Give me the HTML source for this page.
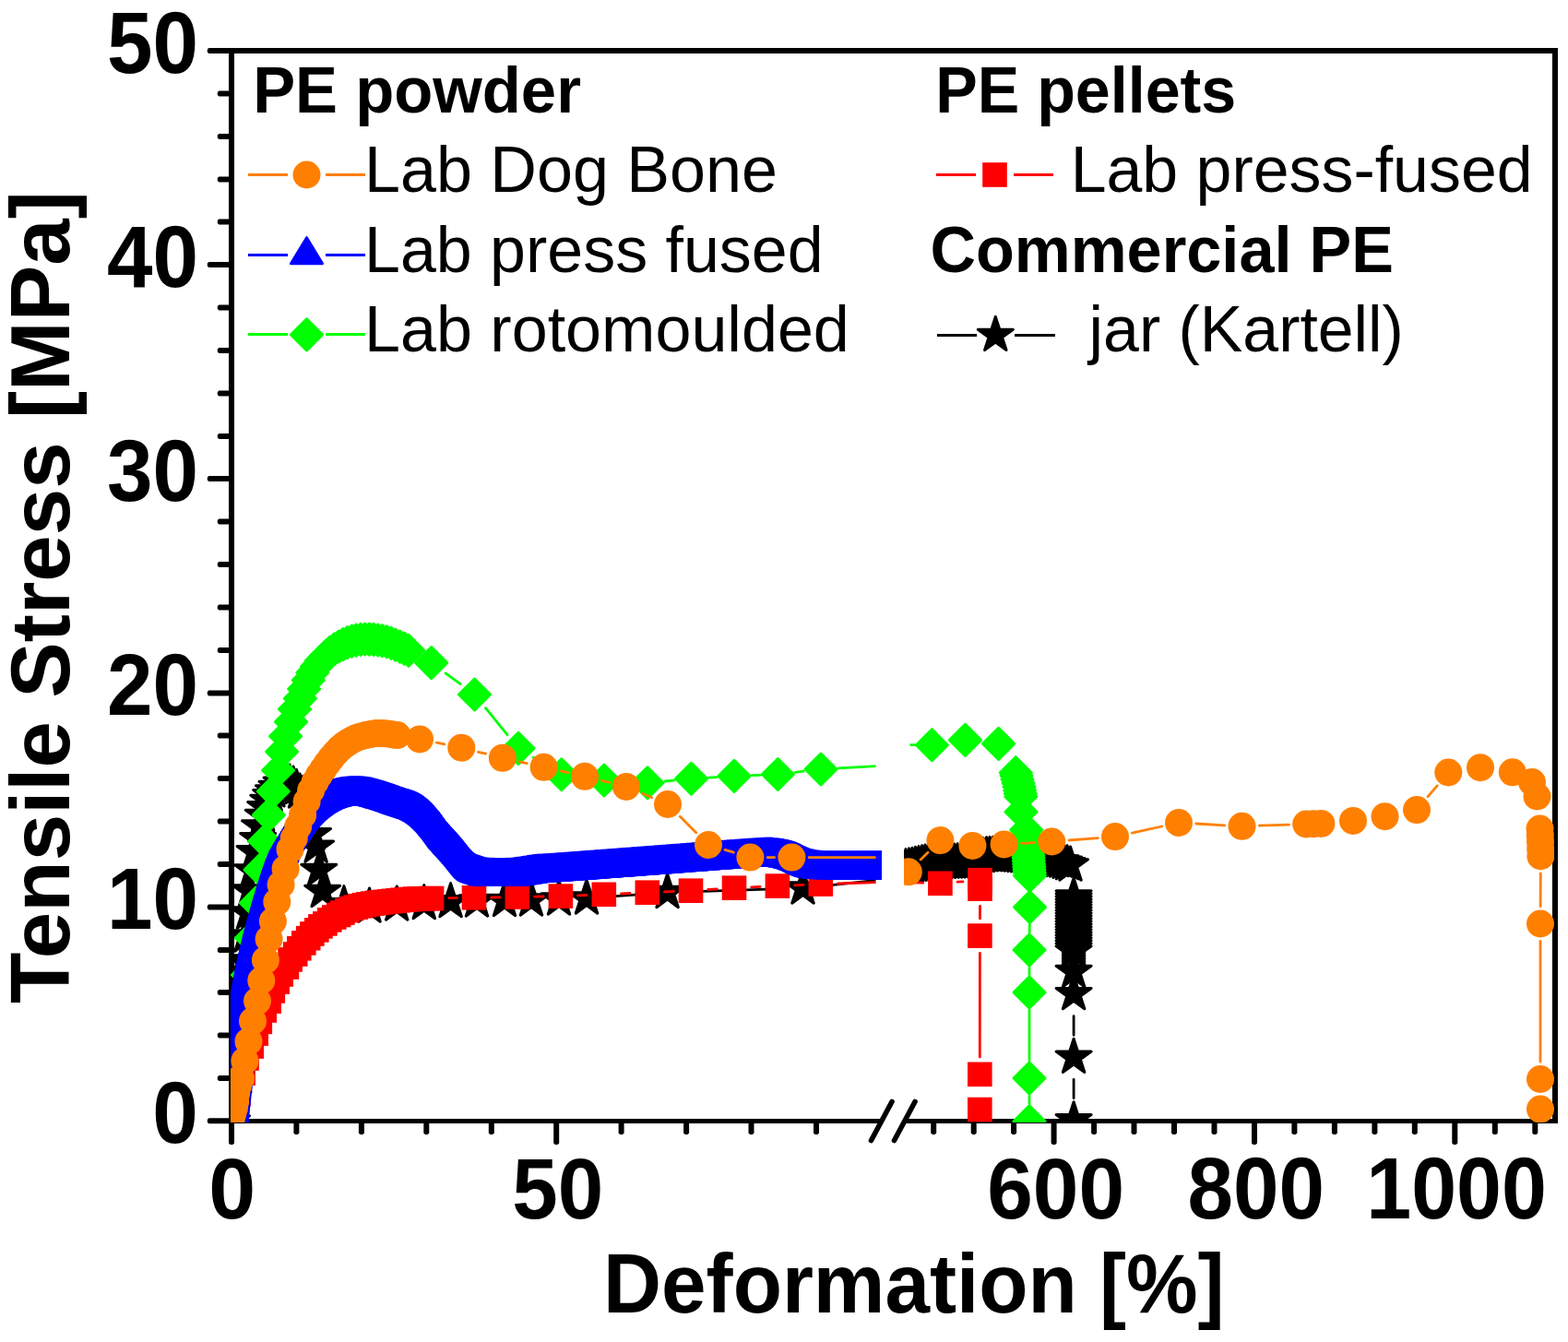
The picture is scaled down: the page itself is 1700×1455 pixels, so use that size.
<!DOCTYPE html>
<html lang="en"><head><meta charset="utf-8"><title>Tensile Stress vs Deformation</title>
<style>html,body{margin:0;padding:0;background:#fff}body{width:1700px;height:1455px;overflow:hidden}svg{display:block}text{font-family:"Liberation Sans",Arial,Helvetica,sans-serif;fill:#000}.b{font-weight:bold}</style></head><body>
<svg width="1700" height="1455" viewBox="0 0 1700 1455">
<rect width="1700" height="1455" fill="#fff"/>
<defs>
<circle id="mo" r="15" fill="#ff8000"/>
<path id="mb" d="M0,-18.8L17,9.2L-17,9.2Z" fill="#0000ff" stroke="#0000ff" stroke-width="3" stroke-linejoin="round"/>
<path id="mg" d="M0,-17L17,0L0,17L-17,0Z" fill="#00ff00" stroke="#00ff00" stroke-width="3" stroke-linejoin="round"/>
<rect id="mr" x="-13.3" y="-13.3" width="26.6" height="26.6" fill="#ff0000"/>
<path id="mk" d="M0.00,-20.00L4.49,-6.18L19.02,-6.18L7.27,2.36L11.76,16.18L0.00,7.64L-11.76,16.18L-7.27,2.36L-19.02,-6.18L-4.49,-6.18Z" fill="#000" stroke="#000" stroke-width="3" stroke-linejoin="round"/>
<clipPath id="cl"><rect x="250" y="58" width="706" height="1159"/></clipPath>
<clipPath id="cr"><rect x="980" y="58" width="705" height="1159"/></clipPath>
<clipPath id="ll"><rect x="250" y="58" width="699.5" height="1159"/></clipPath>
<clipPath id="lr"><rect x="986.5" y="58" width="698.5" height="1159"/></clipPath>
</defs>
<g fill="#000" shape-rendering="crispEdges">
<rect x="248" y="52" width="6" height="1166"/>
<rect x="1683" y="52" width="6" height="1166"/>
<rect x="248" y="52" width="1441" height="6"/>
<rect x="248" y="1213" width="708" height="5"/>
<rect x="980" y="1213" width="709" height="5"/>
</g>
<g fill="#000">
<path d="M250,1212.3 H226.4 L224.8,1213.9 V1216.7 L226.4,1218.3 H250Z"/>
<path d="M250,1166 H237.4 L235.8,1167.6 V1170.4 L237.4,1172 H250Z"/>
<path d="M250,1119.5 H237.4 L235.8,1121.1 V1123.9 L237.4,1125.5 H250Z"/>
<path d="M250,1073 H237.4 L235.8,1074.6 V1077.4 L237.4,1079 H250Z"/>
<path d="M250,1027 H237.4 L235.8,1028.6 V1031.4 L237.4,1033 H250Z"/>
<path d="M250,980.5 H226.4 L224.8,982.1 V984.9 L226.4,986.5 H250Z"/>
<path d="M250,934 H237.4 L235.8,935.6 V938.4 L237.4,940 H250Z"/>
<path d="M250,887.5 H237.4 L235.8,889.1 V891.9 L237.4,893.5 H250Z"/>
<path d="M250,841 H237.4 L235.8,842.6 V845.4 L237.4,847 H250Z"/>
<path d="M250,794.5 H237.4 L235.8,796.1 V798.9 L237.4,800.5 H250Z"/>
<path d="M250,748.5 H226.4 L224.8,750.1 V752.9 L226.4,754.5 H250Z"/>
<path d="M250,702 H237.4 L235.8,703.6 V706.4 L237.4,708 H250Z"/>
<path d="M250,655.5 H237.4 L235.8,657.1 V659.9 L237.4,661.5 H250Z"/>
<path d="M250,609 H237.4 L235.8,610.6 V613.4 L237.4,615 H250Z"/>
<path d="M250,562.5 H237.4 L235.8,564.1 V566.9 L237.4,568.5 H250Z"/>
<path d="M250,516 H226.4 L224.8,517.6 V520.4 L226.4,522 H250Z"/>
<path d="M250,470 H237.4 L235.8,471.6 V474.4 L237.4,476 H250Z"/>
<path d="M250,423.5 H237.4 L235.8,425.1 V427.9 L237.4,429.5 H250Z"/>
<path d="M250,377 H237.4 L235.8,378.6 V381.4 L237.4,383 H250Z"/>
<path d="M250,330.5 H237.4 L235.8,332.1 V334.9 L237.4,336.5 H250Z"/>
<path d="M250,284 H226.4 L224.8,285.6 V288.4 L226.4,290 H250Z"/>
<path d="M250,237.5 H237.4 L235.8,239.1 V241.9 L237.4,243.5 H250Z"/>
<path d="M250,191.5 H237.4 L235.8,193.1 V195.9 L237.4,197.5 H250Z"/>
<path d="M250,145 H237.4 L235.8,146.6 V149.4 L237.4,151 H250Z"/>
<path d="M250,98.5 H237.4 L235.8,100.1 V102.9 L237.4,104.5 H250Z"/>
<path d="M250,52 H226.4 L224.8,53.6 V56.4 L226.4,58 H250Z"/>
<path d="M248,1216 V1239.4 L249.6,1241 H252.4 L254,1239.4 V1216Z"/>
<path d="M318.4,1216 V1228.4 L320,1230 H322.8 L324.4,1228.4 V1216Z"/>
<path d="M388.9,1216 V1228.4 L390.5,1230 H393.3 L394.9,1228.4 V1216Z"/>
<path d="M459.3,1216 V1228.4 L460.9,1230 H463.7 L465.3,1228.4 V1216Z"/>
<path d="M529.8,1216 V1228.4 L531.4,1230 H534.2 L535.8,1228.4 V1216Z"/>
<path d="M600.2,1216 V1239.4 L601.8,1241 H604.6 L606.2,1239.4 V1216Z"/>
<path d="M670.6,1216 V1228.4 L672.2,1230 H675 L676.6,1228.4 V1216Z"/>
<path d="M741.1,1216 V1228.4 L742.7,1230 H745.5 L747.1,1228.4 V1216Z"/>
<path d="M811.5,1216 V1228.4 L813.1,1230 H815.9 L817.5,1228.4 V1216Z"/>
<path d="M882,1216 V1228.4 L883.6,1230 H886.4 L888,1228.4 V1216Z"/>
<path d="M1009.2,1216 V1228.4 L1010.8,1230 H1013.6 L1015.2,1228.4 V1216Z"/>
<path d="M1052.7,1216 V1228.4 L1054.3,1230 H1057.1 L1058.7,1228.4 V1216Z"/>
<path d="M1096.1,1216 V1228.4 L1097.7,1230 H1100.5 L1102.1,1228.4 V1216Z"/>
<path d="M1139.6,1216 V1239.4 L1141.2,1241 H1144 L1145.6,1239.4 V1216Z"/>
<path d="M1183.1,1216 V1228.4 L1184.7,1230 H1187.5 L1189.1,1228.4 V1216Z"/>
<path d="M1226.5,1216 V1228.4 L1228.1,1230 H1230.9 L1232.5,1228.4 V1216Z"/>
<path d="M1270,1216 V1228.4 L1271.6,1230 H1274.4 L1276,1228.4 V1216Z"/>
<path d="M1313.5,1216 V1228.4 L1315.1,1230 H1317.9 L1319.5,1228.4 V1216Z"/>
<path d="M1357,1216 V1239.4 L1358.6,1241 H1361.4 L1363,1239.4 V1216Z"/>
<path d="M1400.4,1216 V1228.4 L1402,1230 H1404.8 L1406.4,1228.4 V1216Z"/>
<path d="M1443.9,1216 V1228.4 L1445.5,1230 H1448.3 L1449.9,1228.4 V1216Z"/>
<path d="M1487.4,1216 V1228.4 L1489,1230 H1491.8 L1493.4,1228.4 V1216Z"/>
<path d="M1530.8,1216 V1228.4 L1532.4,1230 H1535.2 L1536.8,1228.4 V1216Z"/>
<path d="M1574.3,1216 V1239.4 L1575.9,1241 H1578.7 L1580.3,1239.4 V1216Z"/>
<path d="M1617.8,1216 V1228.4 L1619.4,1230 H1622.2 L1623.8,1228.4 V1216Z"/>
<path d="M1661.3,1216 V1228.4 L1662.9,1230 H1665.7 L1667.3,1228.4 V1216Z"/>
</g>
<g stroke="#000" stroke-width="5.6" stroke-linecap="round" fill="none">
<path d="M944.5,1236.5L967,1194.5"/>
<path d="M969.5,1236.5L992,1194.5"/>
</g>
<text class="b" font-size="89" transform="translate(165.36,1239) scale(1,1.052)">0</text>
<text class="b" font-size="89" transform="translate(115.97,1006.9) scale(1,1.052)">10</text>
<text class="b" font-size="89" transform="translate(115.97,774.8) scale(1,1.052)">20</text>
<text class="b" font-size="89" transform="translate(115.97,542.7) scale(1,1.052)">30</text>
<text class="b" font-size="89" transform="translate(115.97,310.6) scale(1,1.052)">40</text>
<text class="b" font-size="89" transform="translate(115.97,78.5) scale(1,1.052)">50</text>
<text class="b" font-size="89" transform="translate(226.34,1320.6) scale(1.029,1.052)">0</text>
<text class="b" font-size="89" transform="translate(555.33,1320.6) scale(1.0004,1.052)">50</text>
<text class="b" font-size="89" transform="translate(1070.15,1320.6) scale(1.0028,1.052)">600</text>
<text class="b" font-size="89" transform="translate(1287.61,1320.6) scale(0.9996,1.052)">800</text>
<text class="b" font-size="89" transform="translate(1481.3,1320.6) scale(0.9879,1.052)">1000</text>
<text class="b" font-size="89" transform="translate(654.11,1422.9) scale(0.98,1.015)">Deformation [%]</text>
<text class="b" font-size="89" transform="translate(75.1,1087.91) rotate(-90) scale(1.0197,1.015)">Tensile Stress [MPa]</text>
<path clip-path="url(#ll)" d="M659.9,972.2L699.7,969.3M747.6,966.8L846.5,963.7M894.4,960.4L960,953.2" stroke="#000000" stroke-width="2.8" stroke-linecap="round" fill="none"/>
<g clip-path="url(#cl)">
<use href="#mk" x="251.5" y="1216"/>
<use href="#mk" x="253" y="1190"/>
<use href="#mk" x="255" y="1160"/>
<use href="#mk" x="257" y="1130"/>
<use href="#mk" x="259" y="1100"/>
<use href="#mk" x="261.5" y="1070"/>
<use href="#mk" x="264" y="1042"/>
<use href="#mk" x="266.5" y="1015"/>
<use href="#mk" x="269" y="990"/>
<use href="#mk" x="271" y="966"/>
<use href="#mk" x="273.5" y="944"/>
<use href="#mk" x="276" y="923.8"/>
<use href="#mk" x="279.7" y="909.6"/>
<use href="#mk" x="281.5" y="896"/>
<use href="#mk" x="285.2" y="884.5"/>
<use href="#mk" x="287.7" y="875.8"/>
<use href="#mk" x="290.8" y="868.4"/>
<use href="#mk" x="293.7" y="862.6"/>
<use href="#mk" x="296.4" y="857.9"/>
<use href="#mk" x="300" y="853.5"/>
<use href="#mk" x="305" y="849.2"/>
<use href="#mk" x="309.5" y="848"/>
<use href="#mk" x="314" y="849"/>
<use href="#mk" x="318" y="851"/>
<use href="#mk" x="321.5" y="854.5"/>
<use href="#mk" x="325" y="859"/>
<use href="#mk" x="328.5" y="866"/>
<use href="#mk" x="332" y="875"/>
<use href="#mk" x="335.5" y="888"/>
<use href="#mk" x="339.5" y="904.6"/>
<use href="#mk" x="342.6" y="918.2"/>
<use href="#mk" x="345.8" y="943.5"/>
<use href="#mk" x="349.7" y="966.5"/>
<use href="#mk" x="372.9" y="980.6"/>
<use href="#mk" x="400.5" y="983"/>
<use href="#mk" x="430.2" y="981"/>
<use href="#mk" x="459.8" y="979.6"/>
<use href="#mk" x="488.6" y="977.6"/>
<use href="#mk" x="517" y="977"/>
<use href="#mk" x="547" y="976.5"/>
<use href="#mk" x="576" y="976"/>
<use href="#mk" x="606" y="975"/>
<use href="#mk" x="636" y="974"/>
<use href="#mk" x="723.6" y="967.5"/>
<use href="#mk" x="870.5" y="963"/>
</g>
<path clip-path="url(#lr)" d="M1164.1,1101.6L1164.1,1122.3M1164.1,1170.3L1164.1,1190.7" stroke="#000000" stroke-width="2.8" stroke-linecap="round" fill="none"/>
<g clip-path="url(#cr)">
<use href="#mk" x="975" y="942"/>
<use href="#mk" x="978.5" y="941.3"/>
<use href="#mk" x="982" y="940.6"/>
<use href="#mk" x="985.5" y="939.9"/>
<use href="#mk" x="989" y="939.2"/>
<use href="#mk" x="992.5" y="938.4"/>
<use href="#mk" x="996" y="937.6"/>
<use href="#mk" x="999.5" y="936.8"/>
<use href="#mk" x="1003" y="936"/>
<use href="#mk" x="1006.5" y="935.9"/>
<use href="#mk" x="1010" y="935.8"/>
<use href="#mk" x="1013.5" y="935.6"/>
<use href="#mk" x="1017" y="935.5"/>
<use href="#mk" x="1020.5" y="935.4"/>
<use href="#mk" x="1024" y="935.3"/>
<use href="#mk" x="1027.5" y="935.2"/>
<use href="#mk" x="1031" y="935.1"/>
<use href="#mk" x="1034.5" y="935"/>
<use href="#mk" x="1038" y="934.8"/>
<use href="#mk" x="1041.5" y="934.7"/>
<use href="#mk" x="1045" y="934.6"/>
<use href="#mk" x="1048.5" y="934.3"/>
<use href="#mk" x="1052" y="933"/>
<use href="#mk" x="1055.5" y="931.7"/>
<use href="#mk" x="1059" y="930.4"/>
<use href="#mk" x="1062.5" y="929.4"/>
<use href="#mk" x="1066" y="928.6"/>
<use href="#mk" x="1069.5" y="927.8"/>
<use href="#mk" x="1073" y="927.4"/>
<use href="#mk" x="1076.5" y="927.4"/>
<use href="#mk" x="1080" y="927.3"/>
<use href="#mk" x="1083.5" y="927.2"/>
<use href="#mk" x="1087" y="927.1"/>
<use href="#mk" x="1090.5" y="927"/>
<use href="#mk" x="1094" y="927.4"/>
<use href="#mk" x="1097.5" y="927.8"/>
<use href="#mk" x="1101" y="928.1"/>
<use href="#mk" x="1104.5" y="928.5"/>
<use href="#mk" x="1108" y="928.8"/>
<use href="#mk" x="1111.5" y="929.2"/>
<use href="#mk" x="1115" y="929.8"/>
<use href="#mk" x="1118.5" y="930.3"/>
<use href="#mk" x="1122" y="930.8"/>
<use href="#mk" x="1125.5" y="931.3"/>
<use href="#mk" x="1129" y="931.9"/>
<use href="#mk" x="1132.5" y="932.2"/>
<use href="#mk" x="1136" y="932.6"/>
<use href="#mk" x="1139.5" y="933"/>
<use href="#mk" x="1143" y="933.3"/>
<use href="#mk" x="1146.5" y="933.6"/>
<use href="#mk" x="1150" y="934"/>
<use href="#mk" x="1153.5" y="935.3"/>
<use href="#mk" x="1157" y="936.7"/>
<use href="#mk" x="1160.5" y="938"/>
<use href="#mk" x="1164.1" y="972"/>
<use href="#mk" x="1164.1" y="975"/>
<use href="#mk" x="1164.1" y="978"/>
<use href="#mk" x="1164.1" y="981"/>
<use href="#mk" x="1164.1" y="984"/>
<use href="#mk" x="1164.1" y="987"/>
<use href="#mk" x="1164.1" y="990"/>
<use href="#mk" x="1164.1" y="993"/>
<use href="#mk" x="1164.1" y="996"/>
<use href="#mk" x="1164.1" y="999"/>
<use href="#mk" x="1164.1" y="1002"/>
<use href="#mk" x="1164.1" y="1005"/>
<use href="#mk" x="1164.1" y="1008"/>
<use href="#mk" x="1164.1" y="1011"/>
<use href="#mk" x="1164.1" y="1014"/>
<use href="#mk" x="1164.1" y="1017"/>
<use href="#mk" x="1164.1" y="1020"/>
<use href="#mk" x="1164.1" y="1023"/>
<use href="#mk" x="1164.1" y="1026"/>
<use href="#mk" x="1164.1" y="1029"/>
<use href="#mk" x="1164.1" y="1032"/>
<use href="#mk" x="1164.1" y="1053.5"/>
<use href="#mk" x="1164.1" y="1077.6"/>
<use href="#mk" x="1164.1" y="1146.3"/>
<use href="#mk" x="1164.1" y="1214.7"/>
</g>
<path clip-path="url(#ll)" d="M486.8,973.7L495.3,973.6M532.7,973L542.1,972.8M579.5,972.1L589.2,972M626.6,970.9L636.1,970.5M673.5,969L683.1,968.5M720.5,966.9L730.3,966.5M767.7,964.5L777.3,963.9M814.7,961.9L824.2,961.4M861.6,959.8L871.1,959.4M908.5,958L960,956.3" stroke="#ff0000" stroke-width="2.8" stroke-linecap="round" fill="none"/>
<g clip-path="url(#cl)">
<use href="#mr" x="253" y="1214"/>
<use href="#mr" x="255" y="1203"/>
<use href="#mr" x="258.5" y="1186"/>
<use href="#mr" x="263.6" y="1163.6"/>
<use href="#mr" x="267.5" y="1147.5"/>
<use href="#mr" x="272.7" y="1134.5"/>
<use href="#mr" x="277.7" y="1120.6"/>
<use href="#mr" x="281.8" y="1107.9"/>
<use href="#mr" x="286.7" y="1095.5"/>
<use href="#mr" x="291.7" y="1085.6"/>
<use href="#mr" x="295.8" y="1074.4"/>
<use href="#mr" x="300.7" y="1064.5"/>
<use href="#mr" x="304.7" y="1056.5"/>
<use href="#mr" x="310.9" y="1048.5"/>
<use href="#mr" x="314.6" y="1040.4"/>
<use href="#mr" x="320.2" y="1034.5"/>
<use href="#mr" x="324.3" y="1028.3"/>
<use href="#mr" x="329.3" y="1022.4"/>
<use href="#mr" x="334.2" y="1017.2"/>
<use href="#mr" x="338.3" y="1012.5"/>
<use href="#mr" x="343.3" y="1008.4"/>
<use href="#mr" x="347.4" y="1004.4"/>
<use href="#mr" x="352.4" y="1001.4"/>
<use href="#mr" x="357.3" y="997.4"/>
<use href="#mr" x="362.2" y="994.5"/>
<use href="#mr" x="367.2" y="992"/>
<use href="#mr" x="371.3" y="989.6"/>
<use href="#mr" x="376.3" y="987.1"/>
<use href="#mr" x="381.2" y="985"/>
<use href="#mr" x="385.8" y="983.6"/>
<use href="#mr" x="390.4" y="982.3"/>
<use href="#mr" x="394.9" y="981.2"/>
<use href="#mr" x="399.5" y="980.3"/>
<use href="#mr" x="404.1" y="979.6"/>
<use href="#mr" x="408.6" y="978.9"/>
<use href="#mr" x="413.2" y="978.3"/>
<use href="#mr" x="417.8" y="977.8"/>
<use href="#mr" x="422.4" y="977.3"/>
<use href="#mr" x="426.9" y="976.8"/>
<use href="#mr" x="431.5" y="976.3"/>
<use href="#mr" x="436.1" y="975.8"/>
<use href="#mr" x="440.6" y="975.4"/>
<use href="#mr" x="445.2" y="975"/>
<use href="#mr" x="449.8" y="974.7"/>
<use href="#mr" x="454.3" y="974.5"/>
<use href="#mr" x="458.9" y="974.3"/>
<use href="#mr" x="463.5" y="974.2"/>
<use href="#mr" x="468.1" y="974"/>
<use href="#mr" x="514" y="973.3"/>
<use href="#mr" x="560.8" y="972.5"/>
<use href="#mr" x="607.9" y="971.6"/>
<use href="#mr" x="654.8" y="969.8"/>
<use href="#mr" x="701.8" y="967.7"/>
<use href="#mr" x="749" y="965.7"/>
<use href="#mr" x="796" y="962.7"/>
<use href="#mr" x="842.9" y="960.6"/>
<use href="#mr" x="889.8" y="958.6"/>
</g>
<path clip-path="url(#lr)" d="M970,956L1000.7,957.1M1038,956.2L1043.9,955.8M1062.5,982.4L1062.4,995.9M1062.4,1033.3L1062.3,1146.1" stroke="#ff0000" stroke-width="2.8" stroke-linecap="round" fill="none"/>
<g clip-path="url(#cr)">
<use href="#mr" x="1019.4" y="957.8"/>
<use href="#mr" x="1062.5" y="954.2"/>
<use href="#mr" x="1062.5" y="963.7"/>
<use href="#mr" x="1062.4" y="1014.6"/>
<use href="#mr" x="1062.3" y="1164.8"/>
<use href="#mr" x="1062.3" y="1203"/>
</g>
<path clip-path="url(#ll)" d="M270.3,1038.1L270.6,1035.9M483,729.9L499.2,741.7M526.5,767.7L550,796.7M578.2,821.3L592.6,829.9M627.6,842.3L636.2,843.5M674,847.1L683,847.7M720.9,847L730.6,846.1M768.5,843.1L777,842.6M815,840.6L824.4,840.3M862.3,837.3L871.1,836.2M909,832.9L960,830" stroke="#00ff00" stroke-width="2.8" stroke-linecap="round" fill="none"/>
<g clip-path="url(#cl)">
<use href="#mg" x="251" y="1214"/>
<use href="#mg" x="251.5" y="1207"/>
<use href="#mg" x="252" y="1198.5"/>
<use href="#mg" x="253" y="1185"/>
<use href="#mg" x="255" y="1165"/>
<use href="#mg" x="259.5" y="1130"/>
<use href="#mg" x="264" y="1093"/>
<use href="#mg" x="268.5" y="1057"/>
<use href="#mg" x="272.4" y="1017"/>
<use href="#mg" x="277.4" y="979"/>
<use href="#mg" x="282" y="943"/>
<use href="#mg" x="286.8" y="912"/>
<use href="#mg" x="291.4" y="883.6"/>
<use href="#mg" x="296.3" y="858"/>
<use href="#mg" x="301.6" y="835.2"/>
<use href="#mg" x="305.6" y="815"/>
<use href="#mg" x="309.6" y="798.2"/>
<use href="#mg" x="315.5" y="782.6"/>
<use href="#mg" x="319.5" y="768.9"/>
<use href="#mg" x="325.4" y="757.3"/>
<use href="#mg" x="329.7" y="747"/>
<use href="#mg" x="334.3" y="737.5"/>
<use href="#mg" x="338.8" y="729.3"/>
<use href="#mg" x="343.5" y="722.5"/>
<use href="#mg" x="348.2" y="716.6"/>
<use href="#mg" x="353" y="711.5"/>
<use href="#mg" x="357.7" y="707.3"/>
<use href="#mg" x="362.5" y="703.8"/>
<use href="#mg" x="367.2" y="701"/>
<use href="#mg" x="371.9" y="698.6"/>
<use href="#mg" x="376.7" y="696.6"/>
<use href="#mg" x="381.4" y="695.1"/>
<use href="#mg" x="386.2" y="694.1"/>
<use href="#mg" x="390.9" y="693.4"/>
<use href="#mg" x="395.6" y="693"/>
<use href="#mg" x="400.4" y="693.1"/>
<use href="#mg" x="405.1" y="693.4"/>
<use href="#mg" x="409.9" y="694"/>
<use href="#mg" x="414.6" y="694.7"/>
<use href="#mg" x="419.3" y="695.8"/>
<use href="#mg" x="424.1" y="697.3"/>
<use href="#mg" x="428.8" y="699.1"/>
<use href="#mg" x="433.6" y="701.1"/>
<use href="#mg" x="438.3" y="703.1"/>
<use href="#mg" x="443" y="705.2"/>
<use href="#mg" x="467.7" y="718.6"/>
<use href="#mg" x="514.5" y="753"/>
<use href="#mg" x="562" y="811.4"/>
<use href="#mg" x="608.8" y="839.8"/>
<use href="#mg" x="655" y="846"/>
<use href="#mg" x="702" y="848.8"/>
<use href="#mg" x="749.5" y="844.3"/>
<use href="#mg" x="796" y="841.4"/>
<use href="#mg" x="843.4" y="839.5"/>
<use href="#mg" x="890" y="834"/>
</g>
<path clip-path="url(#lr)" d="M970,807.4L991.4,807.6M1116.3,1002.5L1116.2,1011M1116,1049L1116,1057M1116,1095L1116,1150M1116,1188L1116,1196.7" stroke="#00ff00" stroke-width="2.8" stroke-linecap="round" fill="none"/>
<g clip-path="url(#cr)">
<use href="#mg" x="1010.4" y="807.7"/>
<use href="#mg" x="1046.5" y="802.4"/>
<use href="#mg" x="1082.6" y="806.4"/>
<use href="#mg" x="1101.3" y="837.7"/>
<use href="#mg" x="1102" y="841"/>
<use href="#mg" x="1103" y="845"/>
<use href="#mg" x="1104" y="849"/>
<use href="#mg" x="1105" y="853"/>
<use href="#mg" x="1105.7" y="857"/>
<use href="#mg" x="1106.3" y="860.5"/>
<use href="#mg" x="1106.8" y="863.7"/>
<use href="#mg" x="1107" y="880.3"/>
<use href="#mg" x="1112.7" y="899.8"/>
<use href="#mg" x="1113.5" y="908"/>
<use href="#mg" x="1113.7" y="911.2"/>
<use href="#mg" x="1114" y="914.4"/>
<use href="#mg" x="1114.2" y="917.6"/>
<use href="#mg" x="1114.4" y="920.8"/>
<use href="#mg" x="1114.7" y="924"/>
<use href="#mg" x="1114.9" y="927.2"/>
<use href="#mg" x="1115.1" y="930.3"/>
<use href="#mg" x="1115.3" y="933.5"/>
<use href="#mg" x="1115.6" y="936.7"/>
<use href="#mg" x="1115.8" y="939.9"/>
<use href="#mg" x="1116" y="943.1"/>
<use href="#mg" x="1116.3" y="946.3"/>
<use href="#mg" x="1116.5" y="949.5"/>
<use href="#mg" x="1116.5" y="983.5"/>
<use href="#mg" x="1116" y="1030"/>
<use href="#mg" x="1116" y="1076"/>
<use href="#mg" x="1116" y="1169"/>
<use href="#mg" x="1116" y="1215.7"/>
</g>
<g clip-path="url(#cl)">
<use href="#mb" x="250.3" y="1216"/>
<use href="#mb" x="250.4" y="1214.4"/>
<use href="#mb" x="250.6" y="1212.8"/>
<use href="#mb" x="250.7" y="1211.2"/>
<use href="#mb" x="250.8" y="1209.6"/>
<use href="#mb" x="251" y="1208"/>
<use href="#mb" x="251.2" y="1206.4"/>
<use href="#mb" x="251.3" y="1204.8"/>
<use href="#mb" x="251.5" y="1203.3"/>
<use href="#mb" x="251.7" y="1201.7"/>
<use href="#mb" x="251.8" y="1200.1"/>
<use href="#mb" x="252" y="1198.5"/>
<use href="#mb" x="252.2" y="1196.9"/>
<use href="#mb" x="252.4" y="1195.3"/>
<use href="#mb" x="252.5" y="1193.7"/>
<use href="#mb" x="252.7" y="1192.1"/>
<use href="#mb" x="252.9" y="1190.5"/>
<use href="#mb" x="253" y="1188.9"/>
<use href="#mb" x="253.2" y="1187.3"/>
<use href="#mb" x="253.4" y="1185.8"/>
<use href="#mb" x="253.5" y="1184.2"/>
<use href="#mb" x="253.7" y="1182.6"/>
<use href="#mb" x="253.9" y="1181"/>
<use href="#mb" x="254" y="1179.4"/>
<use href="#mb" x="254.2" y="1177.8"/>
<use href="#mb" x="254.4" y="1176.2"/>
<use href="#mb" x="254.6" y="1174.6"/>
<use href="#mb" x="254.8" y="1173"/>
<use href="#mb" x="255" y="1171.4"/>
<use href="#mb" x="255.1" y="1169.9"/>
<use href="#mb" x="255.3" y="1168.3"/>
<use href="#mb" x="255.5" y="1166.7"/>
<use href="#mb" x="255.7" y="1165.1"/>
<use href="#mb" x="255.9" y="1163.5"/>
<use href="#mb" x="256.1" y="1161.9"/>
<use href="#mb" x="256.2" y="1160.3"/>
<use href="#mb" x="256.4" y="1158.7"/>
<use href="#mb" x="256.6" y="1157.1"/>
<use href="#mb" x="256.8" y="1155.5"/>
<use href="#mb" x="256.9" y="1154"/>
<use href="#mb" x="257.1" y="1152.4"/>
<use href="#mb" x="257.3" y="1150.8"/>
<use href="#mb" x="257.4" y="1149.2"/>
<use href="#mb" x="257.6" y="1147.6"/>
<use href="#mb" x="257.8" y="1146"/>
<use href="#mb" x="257.9" y="1144.4"/>
<use href="#mb" x="258.1" y="1142.8"/>
<use href="#mb" x="258.3" y="1141.2"/>
<use href="#mb" x="258.5" y="1139.6"/>
<use href="#mb" x="258.6" y="1138"/>
<use href="#mb" x="258.8" y="1136.5"/>
<use href="#mb" x="259" y="1134.9"/>
<use href="#mb" x="259.1" y="1133.3"/>
<use href="#mb" x="259.3" y="1131.7"/>
<use href="#mb" x="259.5" y="1130.1"/>
<use href="#mb" x="259.7" y="1128.5"/>
<use href="#mb" x="259.8" y="1126.9"/>
<use href="#mb" x="260" y="1125.3"/>
<use href="#mb" x="260.2" y="1123.7"/>
<use href="#mb" x="260.4" y="1122.1"/>
<use href="#mb" x="260.5" y="1120.6"/>
<use href="#mb" x="260.7" y="1119"/>
<use href="#mb" x="260.9" y="1117.4"/>
<use href="#mb" x="261.1" y="1115.8"/>
<use href="#mb" x="261.3" y="1114.2"/>
<use href="#mb" x="261.4" y="1112.6"/>
<use href="#mb" x="261.6" y="1111"/>
<use href="#mb" x="261.8" y="1109.4"/>
<use href="#mb" x="262" y="1107.8"/>
<use href="#mb" x="262.2" y="1106.2"/>
<use href="#mb" x="262.4" y="1104.7"/>
<use href="#mb" x="262.6" y="1103.1"/>
<use href="#mb" x="262.8" y="1101.5"/>
<use href="#mb" x="263" y="1099.9"/>
<use href="#mb" x="263.2" y="1098.3"/>
<use href="#mb" x="263.5" y="1096.7"/>
<use href="#mb" x="263.7" y="1095.1"/>
<use href="#mb" x="263.9" y="1093.6"/>
<use href="#mb" x="264.2" y="1092"/>
<use href="#mb" x="264.4" y="1090.4"/>
<use href="#mb" x="264.7" y="1088.8"/>
<use href="#mb" x="264.9" y="1087.2"/>
<use href="#mb" x="265.2" y="1085.7"/>
<use href="#mb" x="265.5" y="1084.1"/>
<use href="#mb" x="265.7" y="1082.5"/>
<use href="#mb" x="266" y="1080.9"/>
<use href="#mb" x="266.3" y="1079.4"/>
<use href="#mb" x="266.5" y="1077.8"/>
<use href="#mb" x="266.8" y="1076.2"/>
<use href="#mb" x="267.1" y="1074.6"/>
<use href="#mb" x="267.3" y="1073"/>
<use href="#mb" x="267.6" y="1071.5"/>
<use href="#mb" x="267.9" y="1069.9"/>
<use href="#mb" x="268.1" y="1068.3"/>
<use href="#mb" x="268.4" y="1066.7"/>
<use href="#mb" x="268.7" y="1065.2"/>
<use href="#mb" x="269" y="1063.6"/>
<use href="#mb" x="269.2" y="1062"/>
<use href="#mb" x="269.5" y="1060.4"/>
<use href="#mb" x="269.8" y="1058.9"/>
<use href="#mb" x="270.1" y="1057.3"/>
<use href="#mb" x="270.4" y="1055.7"/>
<use href="#mb" x="270.7" y="1054.1"/>
<use href="#mb" x="271" y="1052.6"/>
<use href="#mb" x="271.3" y="1051"/>
<use href="#mb" x="271.6" y="1049.4"/>
<use href="#mb" x="271.9" y="1047.9"/>
<use href="#mb" x="272.2" y="1046.3"/>
<use href="#mb" x="272.6" y="1044.7"/>
<use href="#mb" x="272.9" y="1043.2"/>
<use href="#mb" x="273.2" y="1041.6"/>
<use href="#mb" x="273.5" y="1040"/>
<use href="#mb" x="273.9" y="1038.5"/>
<use href="#mb" x="274.2" y="1036.9"/>
<use href="#mb" x="274.5" y="1035.3"/>
<use href="#mb" x="274.9" y="1033.8"/>
<use href="#mb" x="275.2" y="1032.2"/>
<use href="#mb" x="275.6" y="1030.6"/>
<use href="#mb" x="275.9" y="1029.1"/>
<use href="#mb" x="276.3" y="1027.5"/>
<use href="#mb" x="276.6" y="1026"/>
<use href="#mb" x="277" y="1024.4"/>
<use href="#mb" x="277.3" y="1022.8"/>
<use href="#mb" x="277.7" y="1021.3"/>
<use href="#mb" x="278.1" y="1019.7"/>
<use href="#mb" x="278.4" y="1018.2"/>
<use href="#mb" x="278.8" y="1016.6"/>
<use href="#mb" x="279.2" y="1015.1"/>
<use href="#mb" x="279.6" y="1013.5"/>
<use href="#mb" x="280" y="1012"/>
<use href="#mb" x="280.3" y="1010.4"/>
<use href="#mb" x="280.7" y="1008.8"/>
<use href="#mb" x="281.1" y="1007.3"/>
<use href="#mb" x="281.5" y="1005.7"/>
<use href="#mb" x="281.9" y="1004.2"/>
<use href="#mb" x="282.3" y="1002.6"/>
<use href="#mb" x="282.7" y="1001.1"/>
<use href="#mb" x="283.1" y="999.5"/>
<use href="#mb" x="283.5" y="998"/>
<use href="#mb" x="283.9" y="996.5"/>
<use href="#mb" x="284.3" y="994.9"/>
<use href="#mb" x="284.7" y="993.4"/>
<use href="#mb" x="285.2" y="991.8"/>
<use href="#mb" x="285.6" y="990.3"/>
<use href="#mb" x="286" y="988.7"/>
<use href="#mb" x="286.4" y="987.2"/>
<use href="#mb" x="286.8" y="985.6"/>
<use href="#mb" x="287.3" y="984.1"/>
<use href="#mb" x="287.7" y="982.5"/>
<use href="#mb" x="288.1" y="981"/>
<use href="#mb" x="288.5" y="979.5"/>
<use href="#mb" x="289" y="977.9"/>
<use href="#mb" x="289.4" y="976.4"/>
<use href="#mb" x="289.8" y="974.8"/>
<use href="#mb" x="290.3" y="973.3"/>
<use href="#mb" x="290.7" y="971.8"/>
<use href="#mb" x="291.2" y="970.2"/>
<use href="#mb" x="291.6" y="968.7"/>
<use href="#mb" x="292.1" y="967.2"/>
<use href="#mb" x="292.5" y="965.6"/>
<use href="#mb" x="293" y="964.1"/>
<use href="#mb" x="293.4" y="962.6"/>
<use href="#mb" x="293.9" y="961"/>
<use href="#mb" x="294.4" y="959.5"/>
<use href="#mb" x="294.8" y="958"/>
<use href="#mb" x="295.3" y="956.4"/>
<use href="#mb" x="295.8" y="954.9"/>
<use href="#mb" x="296.2" y="953.4"/>
<use href="#mb" x="296.7" y="951.9"/>
<use href="#mb" x="297.2" y="950.3"/>
<use href="#mb" x="297.7" y="948.8"/>
<use href="#mb" x="298.2" y="947.3"/>
<use href="#mb" x="298.7" y="945.8"/>
<use href="#mb" x="299.1" y="944.2"/>
<use href="#mb" x="299.6" y="942.7"/>
<use href="#mb" x="300.1" y="941.2"/>
<use href="#mb" x="300.6" y="939.7"/>
<use href="#mb" x="301.1" y="938.1"/>
<use href="#mb" x="301.6" y="936.6"/>
<use href="#mb" x="302.1" y="935.1"/>
<use href="#mb" x="302.6" y="933.6"/>
<use href="#mb" x="303.1" y="932"/>
<use href="#mb" x="303.6" y="930.5"/>
<use href="#mb" x="304.1" y="929"/>
<use href="#mb" x="304.6" y="927.5"/>
<use href="#mb" x="305.2" y="926"/>
<use href="#mb" x="305.8" y="924.5"/>
<use href="#mb" x="306.3" y="923"/>
<use href="#mb" x="306.9" y="921.5"/>
<use href="#mb" x="307.6" y="920.1"/>
<use href="#mb" x="308.2" y="918.6"/>
<use href="#mb" x="308.9" y="917.1"/>
<use href="#mb" x="309.5" y="915.7"/>
<use href="#mb" x="310.3" y="914.3"/>
<use href="#mb" x="311" y="912.9"/>
<use href="#mb" x="311.8" y="911.5"/>
<use href="#mb" x="312.6" y="910.1"/>
<use href="#mb" x="313.4" y="908.7"/>
<use href="#mb" x="314.2" y="907.3"/>
<use href="#mb" x="315.1" y="906"/>
<use href="#mb" x="316" y="904.6"/>
<use href="#mb" x="316.8" y="903.3"/>
<use href="#mb" x="317.7" y="902"/>
<use href="#mb" x="318.6" y="900.6"/>
<use href="#mb" x="319.5" y="899.3"/>
<use href="#mb" x="320.4" y="898"/>
<use href="#mb" x="321.3" y="896.7"/>
<use href="#mb" x="322.2" y="895.3"/>
<use href="#mb" x="323.1" y="894"/>
<use href="#mb" x="324" y="892.7"/>
<use href="#mb" x="324.9" y="891.4"/>
<use href="#mb" x="325.9" y="890.1"/>
<use href="#mb" x="326.9" y="888.8"/>
<use href="#mb" x="327.8" y="887.6"/>
<use href="#mb" x="328.8" y="886.3"/>
<use href="#mb" x="329.9" y="885.1"/>
<use href="#mb" x="331" y="883.9"/>
<use href="#mb" x="332.1" y="882.8"/>
<use href="#mb" x="333.2" y="881.6"/>
<use href="#mb" x="334.3" y="880.5"/>
<use href="#mb" x="335.5" y="879.4"/>
<use href="#mb" x="336.7" y="878.4"/>
<use href="#mb" x="338" y="877.4"/>
<use href="#mb" x="339.2" y="876.3"/>
<use href="#mb" x="340.5" y="875.4"/>
<use href="#mb" x="341.7" y="874.4"/>
<use href="#mb" x="343" y="873.5"/>
<use href="#mb" x="344.3" y="872.5"/>
<use href="#mb" x="345.7" y="871.6"/>
<use href="#mb" x="347" y="870.8"/>
<use href="#mb" x="348.4" y="870"/>
<use href="#mb" x="349.8" y="869.2"/>
<use href="#mb" x="351.2" y="868.4"/>
<use href="#mb" x="352.6" y="867.7"/>
<use href="#mb" x="354.1" y="867.1"/>
<use href="#mb" x="355.6" y="866.4"/>
<use href="#mb" x="357.1" y="865.9"/>
<use href="#mb" x="358.6" y="865.3"/>
<use href="#mb" x="360.1" y="864.8"/>
<use href="#mb" x="361.6" y="864.4"/>
<use href="#mb" x="363.2" y="864"/>
<use href="#mb" x="364.7" y="863.6"/>
<use href="#mb" x="366.3" y="863.2"/>
<use href="#mb" x="367.8" y="862.9"/>
<use href="#mb" x="369.4" y="862.6"/>
<use href="#mb" x="371" y="862.4"/>
<use href="#mb" x="372.6" y="862.2"/>
<use href="#mb" x="374.2" y="862"/>
<use href="#mb" x="375.8" y="861.8"/>
<use href="#mb" x="377.4" y="861.7"/>
<use href="#mb" x="379" y="861.6"/>
<use href="#mb" x="380.6" y="861.5"/>
<use href="#mb" x="382.2" y="861.5"/>
<use href="#mb" x="383.8" y="861.5"/>
<use href="#mb" x="385.4" y="861.4"/>
<use href="#mb" x="387" y="861.5"/>
<use href="#mb" x="388.6" y="861.5"/>
<use href="#mb" x="390.2" y="861.5"/>
<use href="#mb" x="391.8" y="861.6"/>
<use href="#mb" x="393.3" y="861.7"/>
<use href="#mb" x="394.9" y="861.9"/>
<use href="#mb" x="396.5" y="862"/>
<use href="#mb" x="398.1" y="862.2"/>
<use href="#mb" x="399.7" y="862.5"/>
<use href="#mb" x="401.3" y="862.7"/>
<use href="#mb" x="402.8" y="863"/>
<use href="#mb" x="404.4" y="863.4"/>
<use href="#mb" x="406" y="863.8"/>
<use href="#mb" x="407.5" y="864.2"/>
<use href="#mb" x="409.1" y="864.6"/>
<use href="#mb" x="410.6" y="865.1"/>
<use href="#mb" x="412.1" y="865.5"/>
<use href="#mb" x="413.7" y="866"/>
<use href="#mb" x="415.2" y="866.4"/>
<use href="#mb" x="416.7" y="866.9"/>
<use href="#mb" x="418.2" y="867.4"/>
<use href="#mb" x="419.8" y="867.9"/>
<use href="#mb" x="421.3" y="868.4"/>
<use href="#mb" x="422.8" y="868.9"/>
<use href="#mb" x="424.3" y="869.4"/>
<use href="#mb" x="425.8" y="869.9"/>
<use href="#mb" x="427.3" y="870.4"/>
<use href="#mb" x="428.9" y="871"/>
<use href="#mb" x="430.4" y="871.5"/>
<use href="#mb" x="431.9" y="872"/>
<use href="#mb" x="433.4" y="872.6"/>
<use href="#mb" x="434.9" y="873.1"/>
<use href="#mb" x="436.4" y="873.6"/>
<use href="#mb" x="437.9" y="874.1"/>
<use href="#mb" x="439.4" y="874.6"/>
<use href="#mb" x="441" y="875.1"/>
<use href="#mb" x="442.5" y="875.5"/>
<use href="#mb" x="444" y="876"/>
<use href="#mb" x="445.6" y="876.5"/>
<use href="#mb" x="447.1" y="877"/>
<use href="#mb" x="448.6" y="877.5"/>
<use href="#mb" x="450.1" y="878.1"/>
<use href="#mb" x="451.5" y="878.8"/>
<use href="#mb" x="453" y="879.5"/>
<use href="#mb" x="454.4" y="880.3"/>
<use href="#mb" x="455.7" y="881.1"/>
<use href="#mb" x="457.1" y="882"/>
<use href="#mb" x="458.4" y="882.9"/>
<use href="#mb" x="459.6" y="883.9"/>
<use href="#mb" x="460.9" y="884.9"/>
<use href="#mb" x="462.1" y="885.9"/>
<use href="#mb" x="463.3" y="886.9"/>
<use href="#mb" x="464.5" y="888"/>
<use href="#mb" x="465.7" y="889.1"/>
<use href="#mb" x="466.8" y="890.2"/>
<use href="#mb" x="467.9" y="891.4"/>
<use href="#mb" x="469" y="892.6"/>
<use href="#mb" x="470.1" y="893.8"/>
<use href="#mb" x="471.1" y="895"/>
<use href="#mb" x="472.1" y="896.2"/>
<use href="#mb" x="473.1" y="897.5"/>
<use href="#mb" x="474.2" y="898.7"/>
<use href="#mb" x="475.2" y="899.9"/>
<use href="#mb" x="476.1" y="901.2"/>
<use href="#mb" x="477.1" y="902.5"/>
<use href="#mb" x="478" y="903.8"/>
<use href="#mb" x="478.9" y="905.1"/>
<use href="#mb" x="479.8" y="906.4"/>
<use href="#mb" x="480.8" y="907.7"/>
<use href="#mb" x="481.8" y="909"/>
<use href="#mb" x="482.8" y="910.2"/>
<use href="#mb" x="483.8" y="911.4"/>
<use href="#mb" x="484.9" y="912.6"/>
<use href="#mb" x="486" y="913.8"/>
<use href="#mb" x="487" y="915"/>
<use href="#mb" x="488.1" y="916.2"/>
<use href="#mb" x="489.2" y="917.4"/>
<use href="#mb" x="490.3" y="918.5"/>
<use href="#mb" x="491.4" y="919.7"/>
<use href="#mb" x="492.4" y="920.9"/>
<use href="#mb" x="493.5" y="922.1"/>
<use href="#mb" x="494.6" y="923.3"/>
<use href="#mb" x="495.7" y="924.5"/>
<use href="#mb" x="496.7" y="925.7"/>
<use href="#mb" x="497.7" y="926.9"/>
<use href="#mb" x="498.8" y="928.1"/>
<use href="#mb" x="499.8" y="929.4"/>
<use href="#mb" x="500.8" y="930.6"/>
<use href="#mb" x="501.8" y="931.9"/>
<use href="#mb" x="502.8" y="933.1"/>
<use href="#mb" x="503.8" y="934.4"/>
<use href="#mb" x="504.8" y="935.6"/>
<use href="#mb" x="505.8" y="936.9"/>
<use href="#mb" x="506.8" y="938.1"/>
<use href="#mb" x="507.8" y="939.3"/>
<use href="#mb" x="508.9" y="940.5"/>
<use href="#mb" x="510" y="941.7"/>
<use href="#mb" x="511.1" y="942.8"/>
<use href="#mb" x="512.3" y="943.8"/>
<use href="#mb" x="513.6" y="944.8"/>
<use href="#mb" x="515" y="945.6"/>
<use href="#mb" x="516.5" y="946.3"/>
<use href="#mb" x="518" y="946.8"/>
<use href="#mb" x="519.5" y="947.3"/>
<use href="#mb" x="521" y="947.8"/>
<use href="#mb" x="522.5" y="948.3"/>
<use href="#mb" x="524" y="948.9"/>
<use href="#mb" x="525.5" y="949.4"/>
<use href="#mb" x="527.1" y="949.7"/>
<use href="#mb" x="528.7" y="949.9"/>
<use href="#mb" x="530.3" y="950"/>
<use href="#mb" x="531.9" y="950.1"/>
<use href="#mb" x="533.5" y="950.2"/>
<use href="#mb" x="535.1" y="950.2"/>
<use href="#mb" x="536.7" y="950.3"/>
<use href="#mb" x="538.3" y="950.3"/>
<use href="#mb" x="539.9" y="950.3"/>
<use href="#mb" x="541.5" y="950.4"/>
<use href="#mb" x="543.1" y="950.4"/>
<use href="#mb" x="544.7" y="950.3"/>
<use href="#mb" x="546.3" y="950.3"/>
<use href="#mb" x="547.9" y="950.3"/>
<use href="#mb" x="549.5" y="950.2"/>
<use href="#mb" x="551.1" y="950.2"/>
<use href="#mb" x="552.7" y="950.1"/>
<use href="#mb" x="554.3" y="950"/>
<use href="#mb" x="555.9" y="949.8"/>
<use href="#mb" x="557.4" y="949.7"/>
<use href="#mb" x="559" y="949.5"/>
<use href="#mb" x="560.6" y="949.2"/>
<use href="#mb" x="562.2" y="949"/>
<use href="#mb" x="563.8" y="948.8"/>
<use href="#mb" x="565.4" y="948.5"/>
<use href="#mb" x="566.9" y="948.3"/>
<use href="#mb" x="568.5" y="948"/>
<use href="#mb" x="570.1" y="947.8"/>
<use href="#mb" x="571.7" y="947.5"/>
<use href="#mb" x="573.3" y="947.2"/>
<use href="#mb" x="574.8" y="947"/>
<use href="#mb" x="576.4" y="946.8"/>
<use href="#mb" x="578" y="946.5"/>
<use href="#mb" x="579.6" y="946.3"/>
<use href="#mb" x="581.2" y="946.2"/>
<use href="#mb" x="582.8" y="946"/>
<use href="#mb" x="584.4" y="945.9"/>
<use href="#mb" x="586" y="945.9"/>
<use href="#mb" x="587.6" y="945.8"/>
<use href="#mb" x="589.2" y="945.7"/>
<use href="#mb" x="590.8" y="945.6"/>
<use href="#mb" x="592.4" y="945.5"/>
<use href="#mb" x="594" y="945.4"/>
<use href="#mb" x="595.6" y="945.3"/>
<use href="#mb" x="597.2" y="945.2"/>
<use href="#mb" x="598.8" y="945.1"/>
<use href="#mb" x="600.4" y="945"/>
<use href="#mb" x="601.9" y="944.9"/>
<use href="#mb" x="603.5" y="944.7"/>
<use href="#mb" x="605.1" y="944.6"/>
<use href="#mb" x="606.7" y="944.5"/>
<use href="#mb" x="608.3" y="944.4"/>
<use href="#mb" x="609.9" y="944.3"/>
<use href="#mb" x="611.5" y="944.1"/>
<use href="#mb" x="613.1" y="944"/>
<use href="#mb" x="614.7" y="943.9"/>
<use href="#mb" x="616.3" y="943.8"/>
<use href="#mb" x="617.9" y="943.7"/>
<use href="#mb" x="619.5" y="943.6"/>
<use href="#mb" x="621.1" y="943.4"/>
<use href="#mb" x="622.7" y="943.3"/>
<use href="#mb" x="624.3" y="943.2"/>
<use href="#mb" x="625.9" y="943.1"/>
<use href="#mb" x="627.5" y="943"/>
<use href="#mb" x="629.1" y="942.8"/>
<use href="#mb" x="630.7" y="942.7"/>
<use href="#mb" x="632.3" y="942.6"/>
<use href="#mb" x="633.9" y="942.5"/>
<use href="#mb" x="635.5" y="942.4"/>
<use href="#mb" x="637" y="942.2"/>
<use href="#mb" x="638.6" y="942.1"/>
<use href="#mb" x="640.2" y="942"/>
<use href="#mb" x="641.8" y="941.9"/>
<use href="#mb" x="643.4" y="941.8"/>
<use href="#mb" x="645" y="941.6"/>
<use href="#mb" x="646.6" y="941.5"/>
<use href="#mb" x="648.2" y="941.4"/>
<use href="#mb" x="649.8" y="941.3"/>
<use href="#mb" x="651.4" y="941.2"/>
<use href="#mb" x="653" y="941"/>
<use href="#mb" x="654.6" y="940.9"/>
<use href="#mb" x="656.2" y="940.8"/>
<use href="#mb" x="657.8" y="940.7"/>
<use href="#mb" x="659.4" y="940.6"/>
<use href="#mb" x="661" y="940.4"/>
<use href="#mb" x="662.6" y="940.3"/>
<use href="#mb" x="664.2" y="940.2"/>
<use href="#mb" x="665.8" y="940.1"/>
<use href="#mb" x="667.4" y="940"/>
<use href="#mb" x="669" y="939.8"/>
<use href="#mb" x="670.6" y="939.7"/>
<use href="#mb" x="672.2" y="939.6"/>
<use href="#mb" x="673.7" y="939.5"/>
<use href="#mb" x="675.3" y="939.4"/>
<use href="#mb" x="676.9" y="939.2"/>
<use href="#mb" x="678.5" y="939.1"/>
<use href="#mb" x="680.1" y="939"/>
<use href="#mb" x="681.7" y="938.9"/>
<use href="#mb" x="683.3" y="938.8"/>
<use href="#mb" x="684.9" y="938.6"/>
<use href="#mb" x="686.5" y="938.5"/>
<use href="#mb" x="688.1" y="938.4"/>
<use href="#mb" x="689.7" y="938.3"/>
<use href="#mb" x="691.3" y="938.2"/>
<use href="#mb" x="692.9" y="938"/>
<use href="#mb" x="694.5" y="937.9"/>
<use href="#mb" x="696.1" y="937.8"/>
<use href="#mb" x="697.7" y="937.7"/>
<use href="#mb" x="699.3" y="937.6"/>
<use href="#mb" x="700.9" y="937.4"/>
<use href="#mb" x="702.5" y="937.3"/>
<use href="#mb" x="704.1" y="937.2"/>
<use href="#mb" x="705.7" y="937.1"/>
<use href="#mb" x="707.3" y="937"/>
<use href="#mb" x="708.8" y="936.8"/>
<use href="#mb" x="710.4" y="936.7"/>
<use href="#mb" x="712" y="936.6"/>
<use href="#mb" x="713.6" y="936.5"/>
<use href="#mb" x="715.2" y="936.3"/>
<use href="#mb" x="716.8" y="936.2"/>
<use href="#mb" x="718.4" y="936.1"/>
<use href="#mb" x="720" y="936"/>
<use href="#mb" x="721.6" y="935.9"/>
<use href="#mb" x="723.2" y="935.7"/>
<use href="#mb" x="724.8" y="935.6"/>
<use href="#mb" x="726.4" y="935.5"/>
<use href="#mb" x="728" y="935.4"/>
<use href="#mb" x="729.6" y="935.2"/>
<use href="#mb" x="731.2" y="935.1"/>
<use href="#mb" x="732.8" y="935"/>
<use href="#mb" x="734.4" y="934.9"/>
<use href="#mb" x="736" y="934.8"/>
<use href="#mb" x="737.6" y="934.6"/>
<use href="#mb" x="739.2" y="934.5"/>
<use href="#mb" x="740.8" y="934.4"/>
<use href="#mb" x="742.3" y="934.3"/>
<use href="#mb" x="743.9" y="934.1"/>
<use href="#mb" x="745.5" y="934"/>
<use href="#mb" x="747.1" y="933.9"/>
<use href="#mb" x="748.7" y="933.8"/>
<use href="#mb" x="750.3" y="933.7"/>
<use href="#mb" x="751.9" y="933.5"/>
<use href="#mb" x="753.5" y="933.4"/>
<use href="#mb" x="755.1" y="933.3"/>
<use href="#mb" x="756.7" y="933.2"/>
<use href="#mb" x="758.3" y="933"/>
<use href="#mb" x="759.9" y="932.9"/>
<use href="#mb" x="761.5" y="932.8"/>
<use href="#mb" x="763.1" y="932.7"/>
<use href="#mb" x="764.7" y="932.6"/>
<use href="#mb" x="766.3" y="932.4"/>
<use href="#mb" x="767.9" y="932.3"/>
<use href="#mb" x="769.5" y="932.2"/>
<use href="#mb" x="771.1" y="932.1"/>
<use href="#mb" x="772.7" y="931.9"/>
<use href="#mb" x="774.3" y="931.8"/>
<use href="#mb" x="775.9" y="931.7"/>
<use href="#mb" x="777.4" y="931.6"/>
<use href="#mb" x="779" y="931.5"/>
<use href="#mb" x="780.6" y="931.3"/>
<use href="#mb" x="782.2" y="931.2"/>
<use href="#mb" x="783.8" y="931.1"/>
<use href="#mb" x="785.4" y="931"/>
<use href="#mb" x="787" y="930.9"/>
<use href="#mb" x="788.6" y="930.7"/>
<use href="#mb" x="790.2" y="930.6"/>
<use href="#mb" x="791.8" y="930.5"/>
<use href="#mb" x="793.4" y="930.4"/>
<use href="#mb" x="795" y="930.3"/>
<use href="#mb" x="796.6" y="930.2"/>
<use href="#mb" x="798.2" y="930"/>
<use href="#mb" x="799.8" y="929.9"/>
<use href="#mb" x="801.4" y="929.8"/>
<use href="#mb" x="803" y="929.7"/>
<use href="#mb" x="804.6" y="929.6"/>
<use href="#mb" x="806.2" y="929.5"/>
<use href="#mb" x="807.8" y="929.3"/>
<use href="#mb" x="809.4" y="929.2"/>
<use href="#mb" x="811" y="929.1"/>
<use href="#mb" x="812.6" y="929"/>
<use href="#mb" x="814.1" y="928.9"/>
<use href="#mb" x="815.7" y="928.8"/>
<use href="#mb" x="817.3" y="928.7"/>
<use href="#mb" x="818.9" y="928.6"/>
<use href="#mb" x="820.5" y="928.5"/>
<use href="#mb" x="822.1" y="928.4"/>
<use href="#mb" x="823.7" y="928.3"/>
<use href="#mb" x="825.3" y="928.2"/>
<use href="#mb" x="826.9" y="928.1"/>
<use href="#mb" x="828.5" y="928"/>
<use href="#mb" x="830.1" y="927.9"/>
<use href="#mb" x="831.7" y="927.9"/>
<use href="#mb" x="833.3" y="927.8"/>
<use href="#mb" x="834.9" y="927.8"/>
<use href="#mb" x="836.5" y="927.8"/>
<use href="#mb" x="838" y="928.2"/>
<use href="#mb" x="839.6" y="928.5"/>
<use href="#mb" x="841.2" y="928.6"/>
<use href="#mb" x="842.8" y="928.7"/>
<use href="#mb" x="844.4" y="928.8"/>
<use href="#mb" x="846" y="929"/>
<use href="#mb" x="847.6" y="929.2"/>
<use href="#mb" x="849.2" y="929.5"/>
<use href="#mb" x="850.7" y="929.8"/>
<use href="#mb" x="852.3" y="930.1"/>
<use href="#mb" x="853.9" y="930.4"/>
<use href="#mb" x="855.4" y="930.8"/>
<use href="#mb" x="857" y="931.2"/>
<use href="#mb" x="858.5" y="931.6"/>
<use href="#mb" x="860" y="932.1"/>
<use href="#mb" x="861.5" y="932.7"/>
<use href="#mb" x="863" y="933.2"/>
<use href="#mb" x="864.5" y="933.8"/>
<use href="#mb" x="866" y="934.5"/>
<use href="#mb" x="867.4" y="935.2"/>
<use href="#mb" x="868.8" y="936"/>
<use href="#mb" x="870.2" y="936.7"/>
<use href="#mb" x="871.7" y="937.4"/>
<use href="#mb" x="873.2" y="938"/>
<use href="#mb" x="874.6" y="938.6"/>
<use href="#mb" x="876.1" y="939.2"/>
<use href="#mb" x="877.6" y="939.8"/>
<use href="#mb" x="879.1" y="940.3"/>
<use href="#mb" x="880.7" y="940.7"/>
<use href="#mb" x="882.3" y="941"/>
<use href="#mb" x="883.8" y="941.3"/>
<use href="#mb" x="885.4" y="941.6"/>
<use href="#mb" x="887" y="941.8"/>
<use href="#mb" x="888.6" y="942"/>
<use href="#mb" x="890.1" y="942.2"/>
<use href="#mb" x="891.7" y="942.4"/>
<use href="#mb" x="893.3" y="942.4"/>
<use href="#mb" x="894.9" y="942.5"/>
<use href="#mb" x="896.5" y="942.5"/>
<use href="#mb" x="898.1" y="942.5"/>
<use href="#mb" x="899.7" y="942.5"/>
<use href="#mb" x="901.3" y="942.5"/>
<use href="#mb" x="902.9" y="942.5"/>
<use href="#mb" x="904.5" y="942.5"/>
<use href="#mb" x="906.1" y="942.5"/>
<use href="#mb" x="907.7" y="942.5"/>
<use href="#mb" x="909.3" y="942.5"/>
<use href="#mb" x="910.9" y="942.5"/>
<use href="#mb" x="912.5" y="942.5"/>
<use href="#mb" x="914.1" y="942.5"/>
<use href="#mb" x="915.7" y="942.5"/>
<use href="#mb" x="917.3" y="942.5"/>
<use href="#mb" x="918.9" y="942.5"/>
<use href="#mb" x="920.5" y="942.5"/>
<use href="#mb" x="922.1" y="942.5"/>
<use href="#mb" x="923.7" y="942.5"/>
<use href="#mb" x="925.3" y="942.5"/>
<use href="#mb" x="926.9" y="942.5"/>
<use href="#mb" x="928.5" y="942.5"/>
<use href="#mb" x="930.1" y="942.5"/>
<use href="#mb" x="931.7" y="942.5"/>
<use href="#mb" x="933.3" y="942.5"/>
<use href="#mb" x="934.9" y="942.5"/>
<use href="#mb" x="936.5" y="942.5"/>
<use href="#mb" x="938.1" y="942.5"/>
<use href="#mb" x="939.7" y="942.5"/>
<use href="#mb" x="941.3" y="942.5"/>
<use href="#mb" x="942.9" y="942.5"/>
<use href="#mb" x="944.5" y="942.5"/>
<use href="#mb" x="946.1" y="942.5"/>
<use href="#mb" x="947.7" y="942.5"/>
<use href="#mb" x="949.3" y="942.5"/>
<use href="#mb" x="950.9" y="942.5"/>
<use href="#mb" x="952.5" y="942.5"/>
<use href="#mb" x="954.1" y="942.5"/>
<use href="#mb" x="955.7" y="942.5"/>
<use href="#mb" x="957.3" y="942.5"/>
<use href="#mb" x="958.9" y="942.5"/>
<use href="#mb" x="960.5" y="942.5"/>
<use href="#mb" x="962.1" y="942.5"/>
<use href="#mb" x="963.7" y="942.5"/>
<use href="#mb" x="965.3" y="942.5"/>
<use href="#mb" x="966.9" y="942.5"/>
<use href="#mb" x="968.5" y="942.5"/>
<use href="#mb" x="970.1" y="942.5"/>
<use href="#mb" x="971.7" y="942.5"/>
<use href="#mb" x="973.3" y="942.5"/>
<use href="#mb" x="974.9" y="942.5"/>
</g>
<path clip-path="url(#ll)" d="M473.4,805.2L481.9,806.9M518.5,815.3L526.6,817.2M563.1,825.9L571.3,827.7M607.9,835.9L615.7,837.7M652.3,846.3L660.7,848.4M696.3,860.2L706.7,864.7M737.3,885.3L754.7,902.7M786,921.4L795.4,924.2M832.2,929.6L839.6,929.6M877.2,929.6L960,929.6" stroke="#ff8000" stroke-width="2.8" stroke-linecap="round" fill="none"/>
<g clip-path="url(#cl)">
<use href="#mo" x="250" y="1216"/>
<use href="#mo" x="250.8" y="1212.5"/>
<use href="#mo" x="252.3" y="1207"/>
<use href="#mo" x="254" y="1201"/>
<use href="#mo" x="255.2" y="1194"/>
<use href="#mo" x="256.2" y="1185"/>
<use href="#mo" x="258" y="1177"/>
<use href="#mo" x="261" y="1169"/>
<use href="#mo" x="265.4" y="1150.2"/>
<use href="#mo" x="269.5" y="1129.2"/>
<use href="#mo" x="274" y="1107"/>
<use href="#mo" x="279" y="1085.3"/>
<use href="#mo" x="283.3" y="1063"/>
<use href="#mo" x="287.9" y="1040.9"/>
<use href="#mo" x="291.6" y="1018"/>
<use href="#mo" x="295.9" y="998.8"/>
<use href="#mo" x="300.3" y="977.8"/>
<use href="#mo" x="304.6" y="959.2"/>
<use href="#mo" x="309.6" y="941.9"/>
<use href="#mo" x="314.5" y="920.8"/>
<use href="#mo" x="318.8" y="908.5"/>
<use href="#mo" x="323.2" y="896.1"/>
<use href="#mo" x="328.1" y="883.7"/>
<use href="#mo" x="332.6" y="869"/>
<use href="#mo" x="337.1" y="857"/>
<use href="#mo" x="341.5" y="848"/>
<use href="#mo" x="345.9" y="840.5"/>
<use href="#mo" x="350.4" y="834"/>
<use href="#mo" x="354.8" y="827.7"/>
<use href="#mo" x="359.3" y="821.8"/>
<use href="#mo" x="363.7" y="816.5"/>
<use href="#mo" x="368.2" y="811.8"/>
<use href="#mo" x="372.6" y="808.1"/>
<use href="#mo" x="377.1" y="805.1"/>
<use href="#mo" x="381.5" y="802.4"/>
<use href="#mo" x="386" y="800.2"/>
<use href="#mo" x="390.4" y="798.7"/>
<use href="#mo" x="394.9" y="797.4"/>
<use href="#mo" x="399.3" y="796.5"/>
<use href="#mo" x="403.8" y="795.7"/>
<use href="#mo" x="408.2" y="795.1"/>
<use href="#mo" x="412.7" y="795"/>
<use href="#mo" x="417.1" y="795.2"/>
<use href="#mo" x="421.6" y="795.7"/>
<use href="#mo" x="426" y="796.4"/>
<use href="#mo" x="430.5" y="797.1"/>
<use href="#mo" x="455" y="801.4"/>
<use href="#mo" x="500.3" y="810.7"/>
<use href="#mo" x="544.8" y="821.8"/>
<use href="#mo" x="589.6" y="831.8"/>
<use href="#mo" x="634" y="841.8"/>
<use href="#mo" x="679" y="852.9"/>
<use href="#mo" x="724" y="872"/>
<use href="#mo" x="768" y="916"/>
<use href="#mo" x="813.4" y="929.6"/>
<use href="#mo" x="858.4" y="929.6"/>
</g>
<path clip-path="url(#lr)" d="M998.2,932.1L1006,924.3M1107.4,914.3L1121.5,913.6M1159,911L1190.3,908.6M1227.4,903.1L1259.6,896M1296.8,893L1327.7,894.8M1365.3,895.2L1397.4,894.1M1548.1,863.7L1558.2,851.9M1670.3,947L1670.1,982.7M1670,1020.3L1670,1151.2" stroke="#ff8000" stroke-width="2.8" stroke-linecap="round" fill="none"/>
<g clip-path="url(#cr)">
<use href="#mo" x="984.8" y="945.3"/>
<use href="#mo" x="1019.4" y="911.1"/>
<use href="#mo" x="1054.4" y="916.9"/>
<use href="#mo" x="1088.6" y="915.4"/>
<use href="#mo" x="1140.3" y="912.5"/>
<use href="#mo" x="1209" y="907.1"/>
<use href="#mo" x="1278" y="892"/>
<use href="#mo" x="1346.5" y="895.8"/>
<use href="#mo" x="1416.2" y="893.5"/>
<use href="#mo" x="1424" y="893.2"/>
<use href="#mo" x="1432.4" y="892.9"/>
<use href="#mo" x="1467" y="889.9"/>
<use href="#mo" x="1501.5" y="885.2"/>
<use href="#mo" x="1536" y="878.1"/>
<use href="#mo" x="1570.3" y="837.5"/>
<use href="#mo" x="1605" y="832.2"/>
<use href="#mo" x="1639.8" y="837.3"/>
<use href="#mo" x="1661" y="848"/>
<use href="#mo" x="1666.5" y="863.5"/>
<use href="#mo" x="1669.5" y="898.5"/>
<use href="#mo" x="1669.8" y="905.5"/>
<use href="#mo" x="1670" y="912.5"/>
<use href="#mo" x="1670.2" y="920.5"/>
<use href="#mo" x="1670.4" y="928.2"/>
<use href="#mo" x="1670" y="1001.5"/>
<use href="#mo" x="1670" y="1170"/>
<use href="#mo" x="1670" y="1202.6"/>
</g>
<path d="M269,188h43v3h-43ZM353,188h43v3h-43Z" fill="#ff8000" shape-rendering="crispEdges"/>
<use href="#mo" x="332.5" y="189.5"/>
<path d="M269,275h43v3h-43ZM353,275h43v3h-43Z" fill="#0000ff" shape-rendering="crispEdges"/>
<use href="#mb" x="332.5" y="276.5"/>
<path d="M269,361h43v3h-43ZM353,361h43v3h-43Z" fill="#00ff00" shape-rendering="crispEdges"/>
<use href="#mg" x="332.5" y="362.9"/>
<path d="M1015,188h43v3h-43ZM1099,188h43v3h-43Z" fill="#ff0000" shape-rendering="crispEdges"/>
<use href="#mr" x="1078.5" y="189.5"/>
<path d="M1016,362h42.8v3h-42.8ZM1099.8,362h44.2v3h-44.2Z" fill="#000000" shape-rendering="crispEdges"/>
<use href="#mk" x="1079.3" y="363.4"/>
<text class="b" font-size="70" transform="translate(274.15,122.1) scale(0.9838,1.015)">PE powder</text>
<text font-size="70" transform="translate(395.02,207.9) scale(1.0011,1.015)">Lab Dog Bone</text>
<text font-size="70" transform="translate(395.03,294.6) scale(0.999,1.015)">Lab press fused</text>
<text font-size="70" transform="translate(395.02,381.4) scale(1.001,1.015)">Lab rotomoulded</text>
<text class="b" font-size="70" transform="translate(1014.19,122.1) scale(0.9747,1.015)">PE pellets</text>
<text font-size="70" transform="translate(1160.64,207.9) scale(0.9981,1.015)">Lab press-fused</text>
<text class="b" font-size="70" transform="translate(1008.56,294.6) scale(0.9781,1.015)">Commercial PE</text>
<text font-size="70" transform="translate(1180.55,381.4) scale(0.9974,1.015)">jar (Kartell)</text>
</svg></body></html>
